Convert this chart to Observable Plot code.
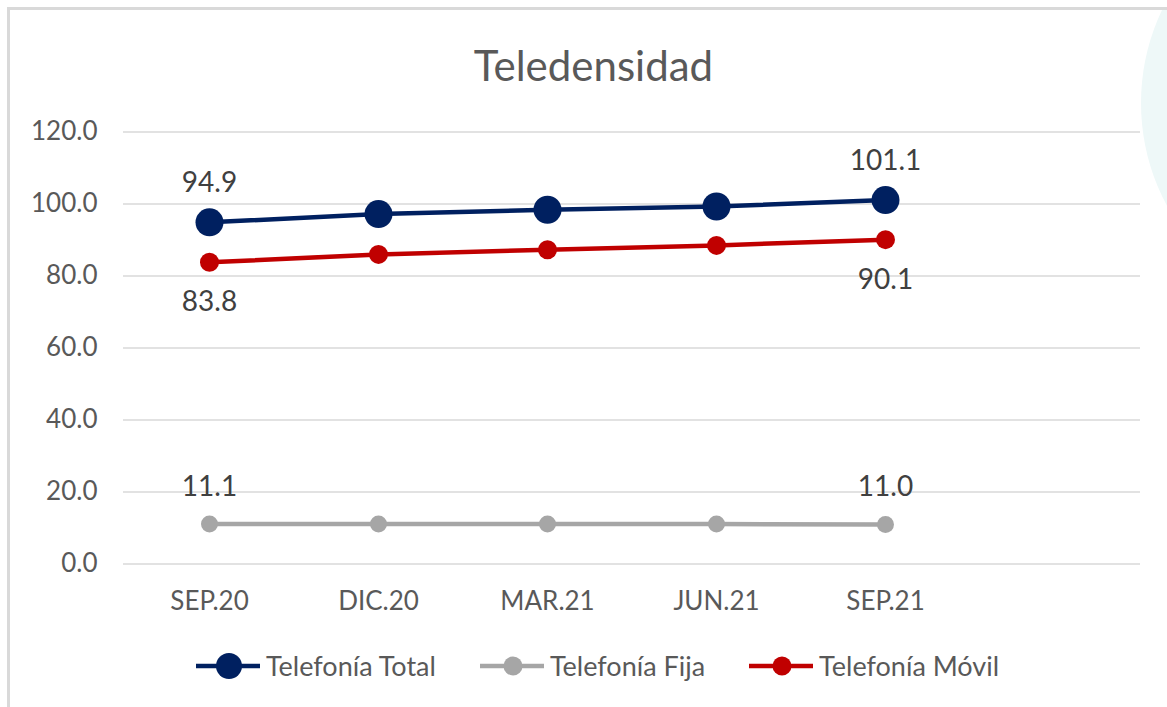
<!DOCTYPE html>
<html><head><meta charset="utf-8">
<script src="https://cdn.jsdelivr.net/npm/d3@7"></script>
<script src="https://cdn.jsdelivr.net/npm/@observablehq/plot@0.6"></script>
<style>
body{margin:0;width:1167px;height:707px;overflow:hidden;background:#fff;position:relative;font-family:Lato,"Open Sans",sans-serif;}
#decoWrap{position:absolute;left:0;top:10px;width:1167px;height:697px;overflow:hidden;}
#deco{position:absolute;left:1141px;top:-123px;width:432px;height:432px;border-radius:50%;background:#eef8f8;}
#frame{position:absolute;left:7px;top:7px;width:1200px;height:760px;border-left:3px solid #d9d9d9;border-top:3px solid #d9d9d9;box-sizing:border-box;}
#title{position:absolute;left:0;top:40px;width:1187px;text-align:center;line-height:50px;font-size:42px;color:#595959;}
#chart{position:absolute;left:0;top:110px;}
#legend{position:absolute;left:0;top:649px;width:1195px;display:flex;justify-content:center;align-items:center;gap:44px;font-size:27px;color:#595959;}
.item{display:flex;align-items:center;gap:6px;}
</style></head>
<body>
<div id="decoWrap"><div id="deco"></div></div>
<div id="frame"></div>
<div id="title">Teledensidad</div>
<div id="chart"></div>
<div id="legend"></div>
<script>
const categories = ["SEP.20","DIC.20","MAR.21","JUN.21","SEP.21"];
const total = [94.9, 97.2, 98.4, 99.3, 101.1];
const fija  = [11.1, 11.1, 11.1, 11.1, 11.0];
const movil = [83.8, 86.0, 87.3, 88.5, 90.1];
const yTicks = [0, 20, 40, 60, 80, 100, 120];
const seriesNames = ["Telefonía Total", "Telefonía Fija", "Telefonía Móvil"];
const seriesColors = ["#002060", "#A6A6A6", "#C00000"];
const seriesValues = [total, fija, movil];
const dotRadius = [14, 8.5, 9.5];
const labelDy = [-39, -37, 40];

const rows = [];
seriesNames.forEach((s, i) => categories.forEach((c, j) => rows.push({series: s, cat: c, value: seriesValues[i][j], idx: j, si: i})));
const labelRows = rows.filter(d => d.idx === 0 || d.idx === categories.length - 1);

const marks = [
  Plot.ruleY(yTicks, {stroke: "#d9d9d9", strokeWidth: 1.5}),
  Plot.axisY({ticks: yTicks, tickSize: 0, tickPadding: 26, tickFormat: d => d.toFixed(1), fill: "#595959", label: null, fontSize: 26}),
  Plot.axisX({ticks: categories, tickSize: 0, tickPadding: 28, fill: "#595959", label: null, fontSize: 26}),
  Plot.line(rows, {x: "cat", y: "value", z: "series", stroke: "series", strokeWidth: 4.5})
];
seriesNames.forEach((s, i) => {
  marks.push(Plot.dot(rows.filter(d => d.si === i), {x: "cat", y: "value", fill: "series", r: dotRadius[i]}));
  marks.push(Plot.text(labelRows.filter(d => d.si === i), {x: "cat", y: "value", text: d => d.value.toFixed(1), dy: labelDy[i], fill: "#404040", fontSize: 28}));
});

const chart = Plot.plot({
  width: 1167, height: 520,
  marginLeft: 123, marginRight: 27, marginTop: 21.5, marginBottom: 66.5,
  style: {fontFamily: 'Lato, "Open Sans", sans-serif', fontSize: "26px", color: "#595959", background: "transparent", overflow: "visible"},
  x: {type: "point", domain: [...categories, "\u200b"], padding: 0.5, axis: null},
  y: {domain: [0, 120], axis: null},
  color: {domain: seriesNames, range: seriesColors},
  marks
});
document.getElementById("chart").appendChild(chart);

const legend = document.getElementById("legend");
seriesNames.forEach((s, i) => {
  const item = document.createElement("div");
  item.className = "item";
  const r = i === 0 ? 13 : 9.5;
  item.innerHTML = `<svg width="64" height="30"><line x1="0" x2="64" y1="15" y2="15" stroke="${seriesColors[i]}" stroke-width="4.5"/><circle cx="33" cy="15" r="${r}" fill="${seriesColors[i]}"/></svg><span>${s}</span>`;
  legend.appendChild(item);
});
</script>
</body></html>
